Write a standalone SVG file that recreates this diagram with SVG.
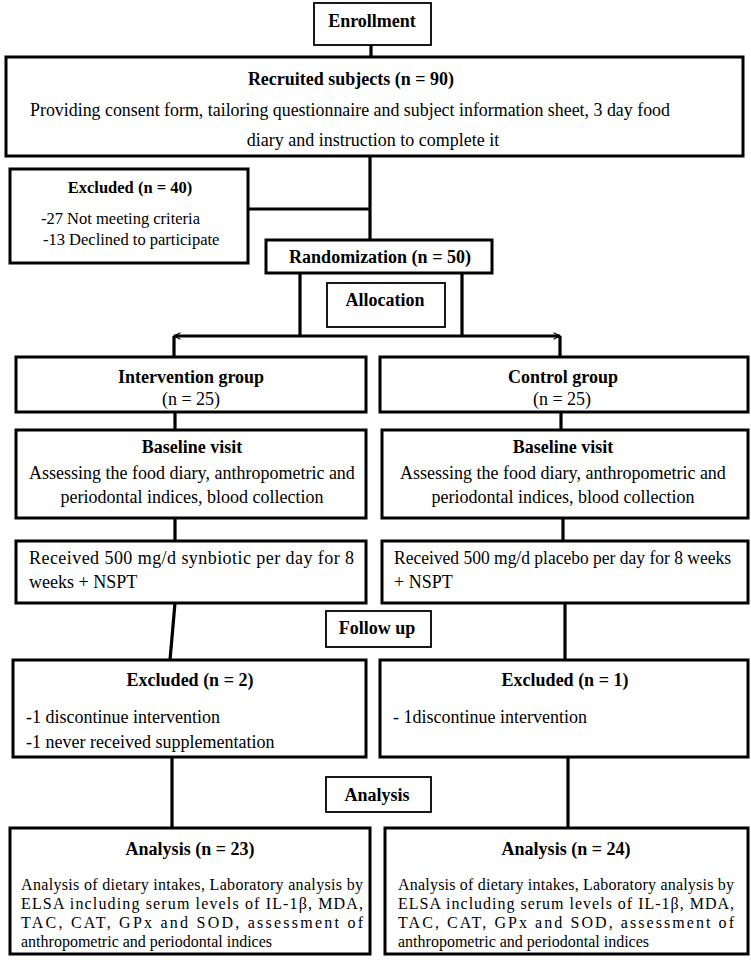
<svg xmlns="http://www.w3.org/2000/svg" width="751" height="960" viewBox="0 0 751 960">
<style>
text{font-family:"Liberation Serif","Times New Roman",serif;font-size:18px;fill:#000}
.b{font-weight:bold}
.m{text-anchor:middle}
.s{font-size:16px}
.e{font-size:16.5px}
.box{fill:#fff;stroke:#000;stroke-width:3}
.sm{fill:#fff;stroke:#000;stroke-width:1.8}
.c{fill:none;stroke:#000;stroke-width:3.2}
</style>
<defs>
<marker id="ah" viewBox="0 0 10 10" refX="9" refY="5" markerWidth="2.5" markerHeight="2.5" orient="auto-start-reverse" markerUnits="strokeWidth">
<path d="M1,1 L9,5 L1,9" fill="none" stroke="#000" stroke-width="1.5"/>
</marker>
</defs>
<rect width="751" height="960" fill="#fff"/>
<g id="connectors">
<path class="c" d="M371,45 V58"/>
<path class="c" d="M370,156 V241"/>
<path class="c" d="M248,209 H370"/>
<path class="c" d="M300,273 V336"/>
<path class="c" d="M462,273 V336"/>
<path class="c" d="M174,336 H560" marker-start="url(#ah)" marker-end="url(#ah)"/>
<path class="c" d="M174,336 V357"/>
<path class="c" d="M560,336 V357"/>
<path class="c" d="M175,412 V430"/>
<path class="c" d="M561,412 V430"/>
<path class="c" d="M175,518 V541"/>
<path class="c" d="M563,518 V541"/>
<path class="c" d="M175,603 L170,660"/>
<path class="c" d="M565,603 V660"/>
<path class="c" d="M172,757 V828"/>
<path class="c" d="M568,757 V828"/>
</g>
<g id="enrollment">
<rect class="sm" x="314" y="3" width="117" height="42"/>
<text class="b m" x="372" y="27">Enrollment</text>
</g>
<g id="recruited">
<rect class="box" x="6" y="57" width="737" height="99"/>
<text class="b m" x="351" y="85">Recruited subjects (n = 90)</text>
<text x="30" y="116" textLength="640" lengthAdjust="spacingAndGlyphs">Providing consent form, tailoring questionnaire and subject information sheet, 3 day food</text>
<text class="m" x="373" y="146">diary and instruction to complete it</text>
</g>
<g id="excluded40">
<rect class="box" x="10" y="169" width="238" height="94"/>
<text class="b m e" x="130" y="193">Excluded (n = 40)</text>
<text class="e" x="41" y="224">-27 Not meeting criteria</text>
<text class="e" x="43" y="245">-13 Declined to participate</text>
</g>
<g id="randomization">
<rect class="box" x="266" y="240" width="226" height="33"/>
<text class="b m" x="380" y="263">Randomization (n = 50)</text>
</g>
<g id="allocation">
<rect class="sm" x="327" y="283" width="118" height="44"/>
<text class="b m" x="385" y="306">Allocation</text>
</g>
<g id="intervention">
<rect class="box" x="16" y="357" width="350" height="55"/>
<text class="b m" x="191" y="383">Intervention group</text>
<text class="m" x="191" y="405">(n = 25)</text>
</g>
<g id="control">
<rect class="box" x="380" y="357" width="368" height="55"/>
<text class="b m" x="563" y="383">Control group</text>
<text class="m" x="562" y="405">(n = 25)</text>
</g>
<g id="baseline-left">
<rect class="box" x="16" y="430" width="350" height="88"/>
<text class="b m" x="192" y="453">Baseline visit</text>
<text class="m" x="192" y="479">Assessing the food diary, anthropometric and</text>
<text class="m" x="192" y="503">periodontal indices, blood collection</text>
</g>
<g id="baseline-right">
<rect class="box" x="382" y="430" width="366" height="88"/>
<text class="b m" x="563" y="453">Baseline visit</text>
<text class="m" x="563" y="479">Assessing the food diary, anthropometric and</text>
<text class="m" x="563" y="503">periodontal indices, blood collection</text>
</g>
<g id="received-left">
<rect class="box" x="16" y="541" width="350" height="62"/>
<text x="29" y="564" textLength="325" lengthAdjust="spacing">Received 500 mg/d synbiotic per day for 8</text>
<text x="29" y="588">weeks + NSPT</text>
</g>
<g id="received-right">
<rect class="box" x="382" y="541" width="366" height="62"/>
<text x="394" y="564" textLength="337" lengthAdjust="spacingAndGlyphs">Received 500 mg/d placebo per day for 8 weeks</text>
<text x="394" y="588">+ NSPT</text>
</g>
<g id="followup">
<rect class="sm" x="326" y="611" width="105" height="36"/>
<text class="b m" x="377" y="634">Follow up</text>
</g>
<g id="excluded-left">
<rect class="box" x="13" y="660" width="353" height="97"/>
<text class="b m" x="190" y="686">Excluded (n = 2)</text>
<text x="26" y="723">-1 discontinue intervention</text>
<text x="26" y="748">-1 never received supplementation</text>
</g>
<g id="excluded-right">
<rect class="box" x="380" y="660" width="368" height="97"/>
<text class="b m" x="565" y="686">Excluded (n = 1)</text>
<text x="393" y="723">- 1discontinue intervention</text>
</g>
<g id="analysis-label">
<rect class="sm" x="326" y="777" width="105" height="35"/>
<text class="b m" x="377" y="801">Analysis</text>
</g>
<g id="analysis-left">
<rect class="box" x="10" y="828" width="360" height="126"/>
<text class="b m" x="190" y="855">Analysis (n = 23)</text>
<text class="s" x="21" y="890" textLength="342" lengthAdjust="spacing">Analysis of dietary intakes, Laboratory analysis by</text>
<text class="s" x="21" y="909" textLength="342" lengthAdjust="spacing">ELSA including serum levels of IL-1β, MDA,</text>
<text class="s" x="21" y="928" textLength="342" lengthAdjust="spacing">TAC, CAT, GPx and SOD, assessment of</text>
<text class="s" x="21" y="947">anthropometric and periodontal indices</text>
</g>
<g id="analysis-right">
<rect class="box" x="385" y="828" width="363" height="126"/>
<text class="b m" x="566" y="855">Analysis (n = 24)</text>
<text class="s" x="398" y="890" textLength="336" lengthAdjust="spacing">Analysis of dietary intakes, Laboratory analysis by</text>
<text class="s" x="398" y="909" textLength="336" lengthAdjust="spacing">ELSA including serum levels of IL-1β, MDA,</text>
<text class="s" x="398" y="928" textLength="336" lengthAdjust="spacing">TAC, CAT, GPx and SOD, assessment of</text>
<text class="s" x="398" y="947">anthropometric and periodontal indices</text>
</g>
</svg>
